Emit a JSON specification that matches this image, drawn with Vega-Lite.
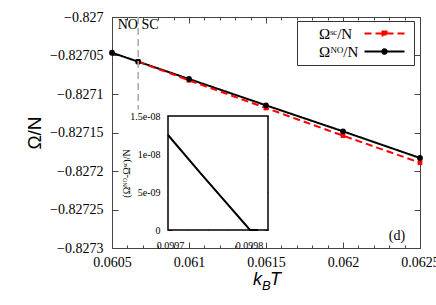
{
  "$schema": "https://vega.github.io/schema/vega-lite/v6.json",
  "width": 308,
  "height": 231,
  "autosize": "none",
  "padding": {"left": 112, "top": 17, "right": 16, "bottom": 57},
  "background": "white",
  "config": {
    "view": {"stroke": "#444", "strokeWidth": 1},
    "axis": {"grid": false, "labelFont": "Liberation Serif", "labelColor": "#000", "labelFlush": false, "tickColor": "#444", "domainColor": "#444", "titleFont": "Liberation Sans", "titleFontWeight": "normal", "titleColor": "#000", "domain": false}
  },
  "datasets": {
    "main": [
      {"T": 0.0605, "omega": -0.8270464, "series": "NO"},
      {"T": 0.06067, "omega": -0.827058, "series": "NO"},
      {"T": 0.061, "omega": -0.8270805, "series": "NO"},
      {"T": 0.0615, "omega": -0.8271147, "series": "NO"},
      {"T": 0.062, "omega": -0.8271485, "series": "NO"},
      {"T": 0.0625, "omega": -0.8271831, "series": "NO"},
      {"T": 0.06067, "omega": -0.827058, "series": "SC"},
      {"T": 0.061, "omega": -0.8270822, "series": "SC"},
      {"T": 0.0615, "omega": -0.8271182, "series": "SC"},
      {"T": 0.062, "omega": -0.8271541, "series": "SC"},
      {"T": 0.0625, "omega": -0.8271892, "series": "SC"}
    ],
    "inset": [
      {"T": 0.09969747, "diff": 1.25e-8},
      {"T": 0.099738, "diff": 7.54e-9},
      {"T": 0.0998013, "diff": 0},
      {"T": 0.0998114, "diff": 0}
    ]
  },
  "layer": [
    {
      "data": {"name": "main"},
      "mark": {"type": "line", "strokeWidth": 2},
      "encoding": {
        "x": {"field": "T", "type": "quantitative", "scale": {"domain": [0.0605, 0.0625], "nice": false, "zero": false},
              "axis": {"orient": "bottom", "values": [0.0605, 0.061, 0.0615, 0.062, 0.0625], "format": "~g", "labelFont": "Liberation Serif", "labelFontSize": 14, "labelFlush": false, "tickSize": -6, "labelPadding": 13, "title": null}},
        "y": {"field": "omega", "type": "quantitative", "scale": {"domain": [-0.8273, -0.827], "nice": false, "zero": false},
              "axis": {"orient": "left", "values": [-0.8273, -0.82725, -0.8272, -0.82715, -0.8271, -0.82705, -0.827], "format": "~g", "labelFont": "Liberation Serif", "labelFontSize": 14, "labelFlush": false, "tickSize": -6, "labelPadding": 15, "title": "Ω/N", "titleFont": "Liberation Sans", "titleFontSize": 19, "titlePadding": 5}},
        "color": {"field": "series", "type": "nominal", "scale": {"domain": ["SC", "NO"], "range": ["#ff0000", "#000000"]},
                  "legend": {"orient": "none", "legendX": 185, "legendY": 4, "title": null, "symbolSize": 100,
                             "symbolType": "M11,0H19", "symbolStrokeWidth": 2,
                             "labelFont": "Liberation Serif", "labelFontSize": 15, "labelColor": "#000", "labelOffset": 2, "strokeColor": "#333", "fillColor": "white", "padding": 5, "rowPadding": 2,
                             "labelExpr": "datum.value === 'SC' ? 'Ωˢᶜ/N' : 'Ωᴺᴼ/N'",
                             "encode": {"symbols": {"update": {
                               "shape": {"signal": "datum.value === 'SC' ? 'M11,0H19M14.6,-0.4H15.4V0.4H14.6Z' : 'M11,0H19M15.45,0A0.45,0.45,0,1,1,14.55,0A0.45,0.45,0,1,1,15.45,0'"},
                               "fill": {"signal": "datum.value === 'SC' ? '#ff0000' : '#000000'"},
                               "stroke": {"signal": "datum.value === 'SC' ? '#ff0000' : '#000000'"},
                               "strokeDash": {"signal": "datum.value === 'SC' ? [7,4] : [1,0]"},
                               "strokeWidth": {"value": 2},
                               "opacity": {"value": 1}
                             }}}}},
        "strokeDash": {"field": "series", "type": "nominal", "scale": {"domain": ["SC", "NO"], "range": [[7, 4], [1, 0]]}, "legend": null}
      }
    },
    {
      "data": {"name": "main"},
      "transform": [{"filter": "datum.series === 'SC'"}],
      "mark": {"type": "point", "shape": "square", "filled": true, "opacity": 1, "color": "#ff0000", "size": 22},
      "encoding": {
        "x": {"field": "T", "type": "quantitative", "scale": {"domain": [0.0605, 0.0625], "nice": false, "zero": false},
              "axis": {"orient": "bottom", "values": [0.0606, 0.0607, 0.0608, 0.0609, 0.0611, 0.0612, 0.0613, 0.0614, 0.0616, 0.0617, 0.0618, 0.0619, 0.0621, 0.0622, 0.0623, 0.0624], "labels": false, "tickSize": -3, "title": null}},
        "y": {"field": "omega", "type": "quantitative", "scale": {"domain": [-0.8273, -0.827], "nice": false, "zero": false},
              "axis": {"orient": "right", "values": [-0.8273, -0.82725, -0.8272, -0.82715, -0.8271, -0.82705, -0.827], "labels": false, "tickSize": -6, "title": null}}
      }
    },
    {
      "data": {"name": "main"},
      "transform": [{"filter": "datum.series === 'NO'"}],
      "mark": {"type": "point", "shape": "circle", "filled": true, "opacity": 1, "color": "#000000", "size": 34},
      "encoding": {
        "x": {"field": "T", "type": "quantitative", "scale": {"domain": [0.0605, 0.0625], "nice": false, "zero": false}, "axis": null},
        "y": {"field": "omega", "type": "quantitative", "scale": {"domain": [-0.8273, -0.827], "nice": false, "zero": false}, "axis": null}
      }
    },
    {
      "data": {"values": [{}]},
      "mark": {"type": "rule", "color": "#aaaaaa", "strokeDash": [7, 4], "strokeWidth": 1.5},
      "encoding": {
        "x": {"datum": 0.06067, "type": "quantitative", "scale": {"domain": [0.0605, 0.0625], "nice": false, "zero": false},
              "axis": {"orient": "top", "values": [0.0605, 0.061, 0.0615, 0.062, 0.0625], "labels": false, "tickSize": -6, "title": null}},
        "y": {"datum": -0.827, "type": "quantitative", "scale": {"domain": [-0.8273, -0.827], "nice": false, "zero": false}, "axis": null},
        "y2": {"datum": -0.82712}
      }
    },
    {
      "data": {"values": [{}]},
      "mark": {"type": "text", "text": "NO SC", "font": "Liberation Serif", "fontSize": 14, "align": "center", "baseline": "middle", "color": "#000"},
      "encoding": {
        "x": {"datum": 0.06067, "type": "quantitative", "scale": {"domain": [0.0605, 0.0625], "nice": false, "zero": false},
              "axis": {"orient": "top", "values": [0.0606, 0.0607, 0.0608, 0.0609, 0.0611, 0.0612, 0.0613, 0.0614, 0.0616, 0.0617, 0.0618, 0.0619, 0.0621, 0.0622, 0.0623, 0.0624], "labels": false, "tickSize": -3, "title": null}},
        "y": {"datum": -0.82701, "type": "quantitative", "scale": {"domain": [-0.8273, -0.827], "nice": false, "zero": false}, "axis": null}
      }
    },
    {
      "data": {"values": [{}]},
      "mark": {"type": "text", "text": "(d)", "font": "Liberation Serif", "fontSize": 14, "align": "center", "baseline": "middle", "color": "#000"},
      "encoding": {
        "x": {"datum": 0.06235, "type": "quantitative", "scale": {"domain": [0.0605, 0.0625], "nice": false, "zero": false}, "axis": null},
        "y": {"datum": -0.827285, "type": "quantitative", "scale": {"domain": [-0.8273, -0.827], "nice": false, "zero": false}, "axis": null}
      }
    },
    {
      "data": {"values": [{}]},
      "mark": {"type": "text", "text": "k", "font": "Liberation Sans", "fontStyle": "italic", "fontSize": 18, "align": "right", "baseline": "alphabetic", "dx": -4, "dy": 37, "color": "#000"},
      "encoding": {
        "x": {"datum": 0.0615, "type": "quantitative", "scale": {"domain": [0.0605, 0.0625], "nice": false, "zero": false}, "axis": null},
        "y": {"datum": -0.8273, "type": "quantitative", "scale": {"domain": [-0.8273, -0.827], "nice": false, "zero": false}, "axis": null}
      }
    },
    {
      "data": {"values": [{}]},
      "mark": {"type": "text", "text": "B", "font": "Liberation Sans", "fontStyle": "italic", "fontSize": 13, "align": "left", "baseline": "alphabetic", "dx": -4, "dy": 42, "color": "#000"},
      "encoding": {
        "x": {"datum": 0.0615, "type": "quantitative", "scale": {"domain": [0.0605, 0.0625], "nice": false, "zero": false}, "axis": null},
        "y": {"datum": -0.8273, "type": "quantitative", "scale": {"domain": [-0.8273, -0.827], "nice": false, "zero": false}, "axis": null}
      }
    },
    {
      "data": {"values": [{}]},
      "mark": {"type": "text", "text": "T", "font": "Liberation Sans", "fontStyle": "italic", "fontSize": 18, "align": "left", "baseline": "alphabetic", "dx": 4, "dy": 37, "color": "#000"},
      "encoding": {
        "x": {"datum": 0.0615, "type": "quantitative", "scale": {"domain": [0.0605, 0.0625], "nice": false, "zero": false}, "axis": null},
        "y": {"datum": -0.8273, "type": "quantitative", "scale": {"domain": [-0.8273, -0.827], "nice": false, "zero": false}, "axis": null}
      }
    },
    {
      "data": {"values": [{}]},
      "mark": {"type": "rect", "fill": "white", "stroke": "#000", "strokeWidth": 1.5},
      "encoding": {
        "x": {"datum": 0.09969747, "type": "quantitative", "scale": {"domain": [0.09969747, 0.09982405], "range": [56, 156], "nice": false, "zero": false},
              "axis": {"orient": "bottom", "offset": -18, "values": [0.0997, 0.099723, 0.099748, 0.099773, 0.0998], "labelExpr": "datum.value == 0.0997 ? '0.0997' : (datum.value == 0.0998 ? '0.0998' : '')", "labelFont": "Liberation Serif", "labelFontSize": 10, "labelFlush": false, "tickSize": -4, "labelPadding": 14, "title": null}},
        "x2": {"datum": 0.09982405},
        "y": {"datum": 0, "type": "quantitative", "scale": {"domain": [0, 1.5e-8], "range": [213, 99], "nice": false, "zero": false},
              "axis": {"orient": "left", "offset": -56, "values": [0, 5e-9, 1e-8, 1.5e-8], "labelExpr": "datum.value < 1e-9 ? '0' : (datum.value < 7e-9 ? '5e-09' : (datum.value < 1.2e-8 ? '1e-08' : '1.5e-08'))", "labelFont": "Liberation Serif", "labelFontSize": 10, "labelFlush": false, "tickSize": -4, "labelPadding": 12, "title": "(Ωᴺᴼ-Ωˢᶜ)/N", "titleFont": "Liberation Serif", "titleFontSize": 10, "titlePadding": -2}},
        "y2": {"datum": 1.5e-8}
      }
    },
    {
      "data": {"name": "inset"},
      "mark": {"type": "line", "color": "#000", "strokeWidth": 2},
      "encoding": {
        "x": {"field": "T", "type": "quantitative", "scale": {"domain": [0.09969747, 0.09982405], "range": [56, 156], "nice": false, "zero": false},
              "axis": {"orient": "top", "offset": -99, "values": [0.0997, 0.099723, 0.099748, 0.099773, 0.0998], "labels": false, "tickSize": -4, "title": null}},
        "y": {"field": "diff", "type": "quantitative", "scale": {"domain": [0, 1.5e-8], "range": [213, 99], "nice": false, "zero": false},
              "axis": {"orient": "right", "offset": -152, "values": [0, 5e-9, 1e-8, 1.5e-8], "labels": false, "tickSize": -4, "title": null}}
      }
    }
  ],
  "resolve": {"scale": {"x": "independent", "y": "independent"}, "axis": {"x": "independent", "y": "independent"}}
}
